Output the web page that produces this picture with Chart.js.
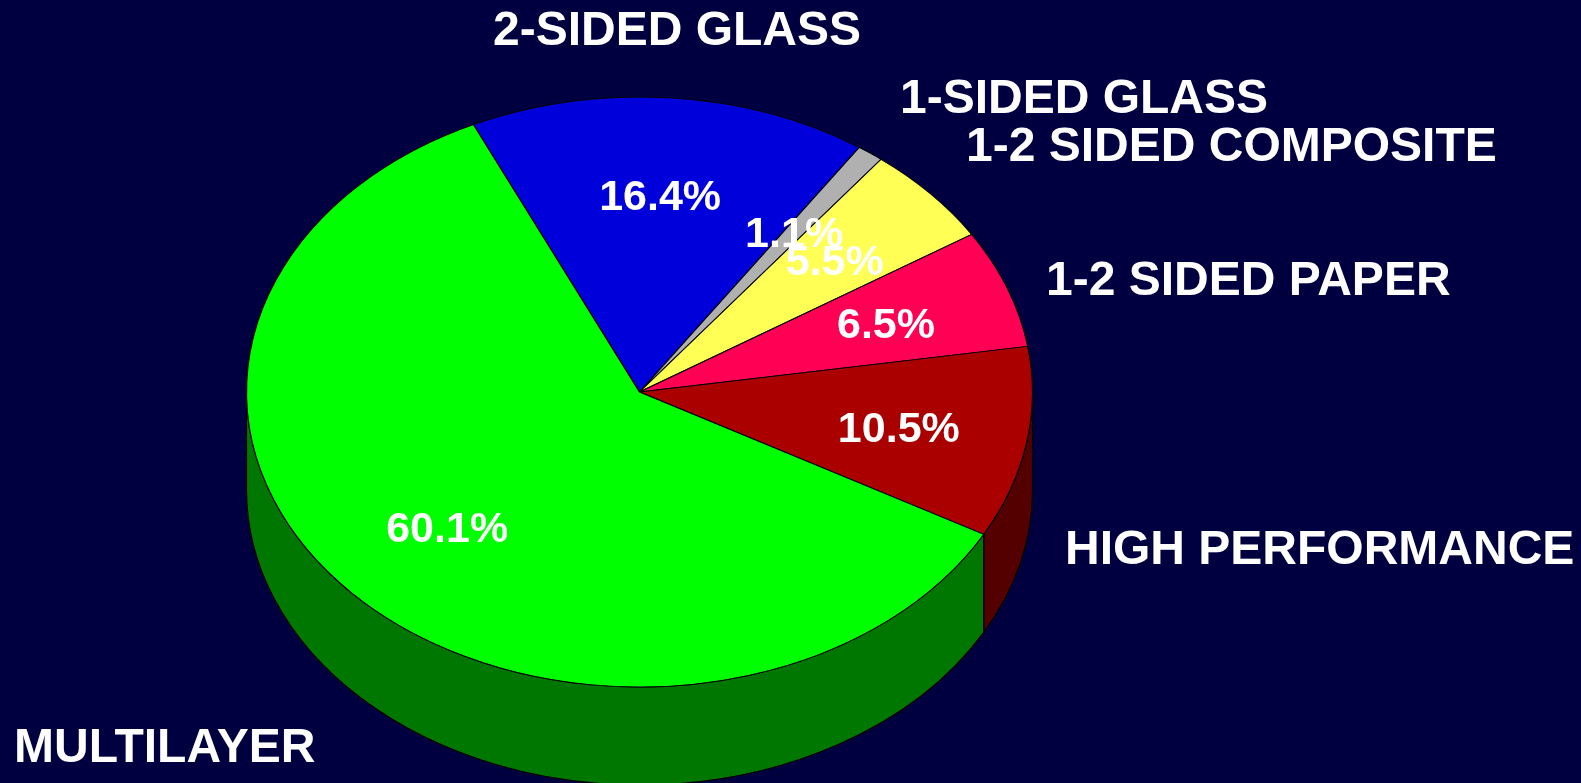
<!DOCTYPE html>
<html>
<head>
<meta charset="utf-8">
<script src="https://cdn.jsdelivr.net/npm/chart.js@4.4.1/dist/chart.umd.min.js"></script>
<style>
  html, body { margin: 0; padding: 0; background: #000040; overflow: hidden; }
  canvas { display: block; }
</style>
</head>
<body>
<canvas id="c" width="1581" height="783"></canvas>
<script>
// ---- data ----
const categories = ['2-SIDED GLASS', '1-SIDED GLASS', '1-2 SIDED COMPOSITE', '1-2 SIDED PAPER', 'HIGH PERFORMANCE', 'MULTILAYER'];
const shares = [16.4, 1.1, 5.5, 6.5, 10.5, 60.1];
const percentLabels = ['16.4%', '1.1%', '5.5%', '6.5%', '10.5%', '60.1%'];

// ---- styles ----
const topColors = ['#0000DA', '#B0B0B0', '#FFFF55', '#FF0055', '#AA0000', '#00FF00'];
const sideColors = ['#00006D', '#585858', '#80802A', '#80002A', '#550000', '#007700'];
const categoryLabelPos = [[493, 45], [900, 113], [966, 161], [1046, 295], [1065, 564], [14, 762]];
const BG = '#000040';
const RADIUS_X = 393;
const TILT = 295 / 393;     // vertical squash of the top face
const DEPTH = 98;           // thickness of the pie side
const LABEL_R = 0.67;       // radial position of percentage labels
const PCT_FONT = 43;
const CAT_FONT = 48;
const FONT_FAMILY = '"Liberation Sans", Arial, Helvetica, sans-serif';

const pie3d = {
  id: 'pie3d',
  beforeDraw(chart) {
    const ctx = chart.ctx;
    ctx.save();
    ctx.fillStyle = BG;
    ctx.fillRect(0, 0, chart.width, chart.height);
    ctx.restore();
  },
  beforeDatasetsDraw(chart) {
    const ctx = chart.ctx;
    const arcs = chart.getDatasetMeta(0).data;
    const first = arcs[0].getProps(['x', 'y', 'outerRadius'], true);
    const R = first.outerRadius, ry = R * TILT;
    // side walls (front half only)
    arcs.forEach((arc, i) => {
      const p = arc.getProps(['x', 'y', 'startAngle', 'endAngle'], true);
      [-2 * Math.PI, 0, 2 * Math.PI].forEach(shift => {
        const a = Math.max(p.startAngle + shift, 0);
        const b = Math.min(p.endAngle + shift, Math.PI);
        if (b <= a) return;
        ctx.save();
        ctx.beginPath();
        ctx.ellipse(p.x, p.y, R, ry, 0, a, b, false);
        ctx.ellipse(p.x, p.y + DEPTH, R, ry, 0, b, a, true);
        ctx.closePath();
        ctx.fillStyle = sideColors[i];
        ctx.fill();
        ctx.lineWidth = 1.2;
        ctx.strokeStyle = '#000';
        ctx.stroke();
        ctx.restore();
      });
    });
    // squash the top face
    ctx.save();
    ctx.translate(first.x, first.y);
    ctx.scale(1, TILT);
    ctx.translate(-first.x, -first.y);
  },
  afterDatasetsDraw(chart) {
    const ctx = chart.ctx;
    ctx.restore();
    const arcs = chart.getDatasetMeta(0).data;
    ctx.save();
    ctx.fillStyle = '#FFFFFF';
    ctx.textAlign = 'center';
    ctx.textBaseline = 'alphabetic';
    ctx.font = 'bold ' + PCT_FONT + 'px ' + FONT_FAMILY;
    arcs.forEach((arc, i) => {
      const p = arc.getProps(['x', 'y', 'startAngle', 'endAngle', 'outerRadius'], true);
      const mid = (p.startAngle + p.endAngle) / 2;
      const lx = p.x + LABEL_R * p.outerRadius * Math.cos(mid);
      const ly = p.y + LABEL_R * p.outerRadius * TILT * Math.sin(mid);
      ctx.fillText(percentLabels[i], lx, ly + 0.358 * PCT_FONT);
    });
    ctx.textAlign = 'left';
    ctx.font = 'bold ' + CAT_FONT + 'px ' + FONT_FAMILY;
    categories.forEach((c, i) => {
      ctx.fillText(c, categoryLabelPos[i][0], categoryLabelPos[i][1]);
    });
    ctx.restore();
  }
};

new Chart(document.getElementById('c'), {
  type: 'pie',
  data: {
    labels: categories,
    datasets: [{
      data: shares,
      backgroundColor: topColors,
      borderColor: '#000000',
      borderWidth: 1.2,
      clip: false
    }]
  },
  options: {
    responsive: false,
    animation: false,
    events: [],
    rotation: -25,
    radius: RADIUS_X,
    layout: { padding: { left: 0, right: 302, top: 1, bottom: 0 } },
    plugins: { legend: { display: false }, tooltip: { enabled: false } }
  },
  plugins: [pie3d]
});
</script>
</body>
</html>
